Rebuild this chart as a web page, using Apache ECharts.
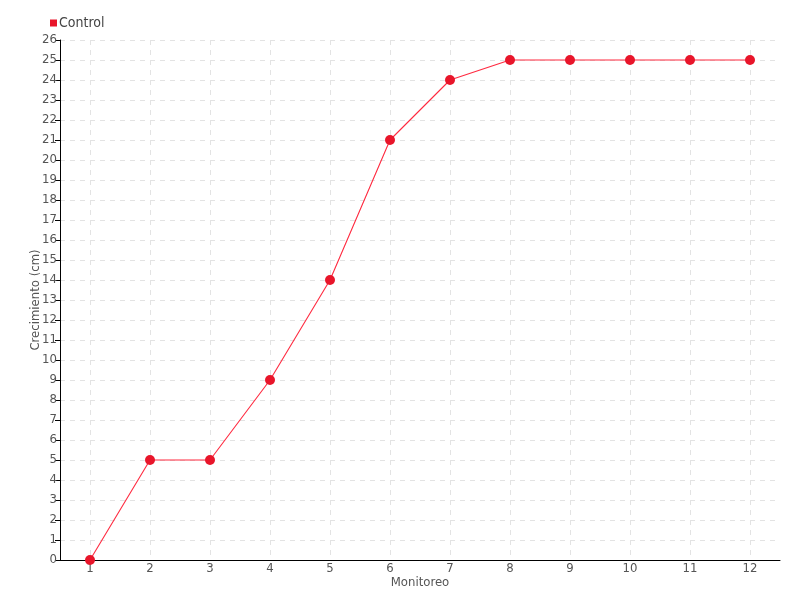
<!DOCTYPE html>
<html><head><meta charset="utf-8">
<script src="https://cdn.jsdelivr.net/npm/echarts@6/dist/echarts.min.js"></script>
<style>html,body{margin:0;padding:0;background:#fff}#c{width:800px;height:600px}</style>
</head><body><div id="c"></div>
<script>
const categories = ['1','2','3','4','5','6','7','8','9','10','11','12'];
const controlValues = [0,5,5,9,14,21,24,25,25,25,25,25];
const FONT = '"DejaVu Sans Condensed", "Liberation Sans Narrow", sans-serif';
const chart = echarts.init(document.getElementById('c'));
chart.setOption({
  animation: false,
  textStyle: {fontFamily: FONT},
  legend: {
    left: 45, top: 11, itemWidth: 7, itemHeight: 7, itemGap: 4,
    icon: 'rect',
    textStyle: {fontFamily: FONT, fontSize: 14, color: '#444', padding: [0,0,0,-3]},
    data: ['Control']
  },
  grid: {left: 60, right: 20, top: 40, bottom: 40},
  xAxis: {
    type: 'category', data: categories, boundaryGap: true,
    name: 'Monitoreo', nameLocation: 'middle', nameGap: 16, nameMoveOverlap: false,
    nameTextStyle: {fontFamily: FONT, fontSize: 13, color: '#555'},
    axisLine: {lineStyle: {color: '#000'}},
    axisTick: {alignWithLabel: true, length: 5, lineStyle: {color: '#000'}},
    axisLabel: {fontFamily: FONT, fontSize: 13, color: '#555', margin: 2},
    splitLine: {show: true, alignWithLabel: true, lineStyle: {color: '#e3e3e3', type: [5,5]}}
  },
  yAxis: {
    type: 'value', min: 0, max: 26, interval: 1,
    name: 'Crecimiento (cm)', nameLocation: 'middle', nameGap: 18, nameMoveOverlap: false,
    nameTextStyle: {fontFamily: FONT, fontSize: 13, color: '#555'},
    axisLine: {show: true, lineStyle: {color: '#000'}},
    axisTick: {show: true, length: 5, lineStyle: {color: '#000'}},
    axisLabel: {fontFamily: FONT, fontSize: 13, color: '#555', margin: 3},
    splitLine: {show: true, lineStyle: {color: '#e3e3e3', type: [5,5]}}
  },
  series: [{
    name: 'Control', type: 'line', data: controlValues,
    symbol: 'circle', symbolSize: 10,
    itemStyle: {color: '#e8152a'},
    lineStyle: {color: '#ff2a40', width: 1.1}
  }]
});
</script></body></html>
